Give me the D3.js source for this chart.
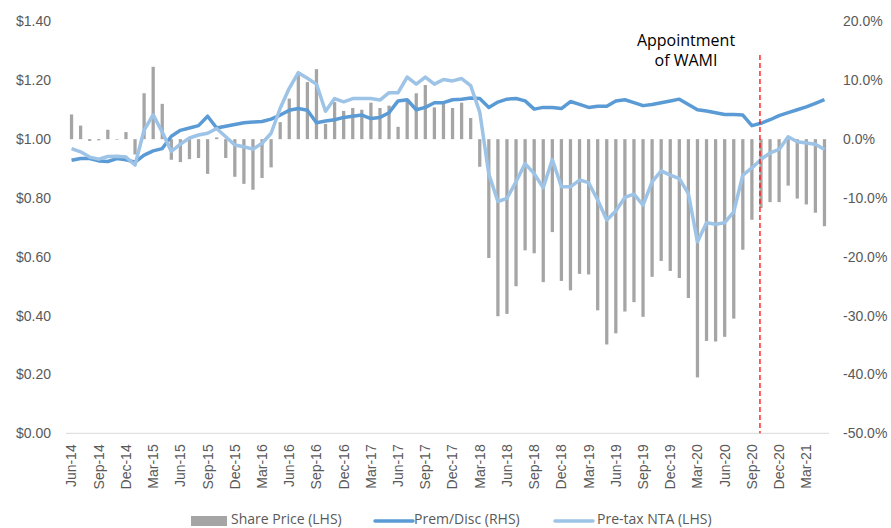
<!DOCTYPE html>
<html lang="en">
<head>
<meta charset="UTF-8">
<title>Share price, NTA and premium/discount</title>
<script src="https://cdn.jsdelivr.net/npm/d3@7"></script>
<style>
    body { margin: 0; background: #fff; }
    svg { display: block; font-family: "Open Sans", sans-serif; }
    .axis text { fill: #595959; font-size: 14px; }
    .axis path, .axis line { display: none; }
    .legend text { fill: #595959; font-size: 14px; }
</style>
</head>
<body>
<script>
// monthly points, Jun-14 .. May-21
var startMonth = new Date(2014, 5, 1),
    endMonth = new Date(2021, 5, 1);

// grey bars (drawn on the right-hand % axis), in %
var sharePrice = [4.2, 2.3, -0.3, -0.2, 1.6, -0.1, 1.2, -2.6, 7.8, 12.3,
    6.0, -3.5, -3.9, -3.4, -3.2, -5.9, 0.3, -3.2, -6.4, -7.6,
    -8.6, -6.6, -4.8, 2.9, 6.9, 11.0, 9.7, 11.9, 2.6, 6.3,
    4.8, 5.3, 5.0, 6.2, 5.3, 5.7, 2.1, 6.7, 7.8, 9.2,
    5.4, 6.1, 5.3, 6.2, 3.6, -4.7, -20.2, -30.1, -29.7, -25.0,
    -18.9, -19.4, -24.3, -15.8, -24.1, -25.7, -22.9, -23.0, -29.1, -34.9,
    -33.0, -29.3, -27.7, -30.2, -23.4, -20.7, -22.4, -23.6, -27.0, -40.5,
    -34.3, -34.4, -33.6, -30.5, -18.8, -13.7, -11.7, -10.7, -10.7, -7.9,
    -10.1, -11.1, -12.5, -14.8];

// dark blue line, in %
var premDisc = [-3.6, -3.3, -3.3, -3.7, -3.8, -3.3, -3.5, -3.9, -2.7, -2.0,
    -1.6, 0.5, 1.5, 1.9, 2.3, 3.9, 1.9, 2.2, 2.5, 2.8,
    2.9, 3.0, 3.4, 4.1, 4.9, 5.2, 4.9, 2.8, 3.1, 3.3,
    3.7, 3.9, 4.1, 3.5, 3.7, 4.5, 6.5, 6.7, 5.0, 5.4,
    6.2, 6.2, 6.7, 6.8, 7.0, 6.9, 5.4, 6.3, 6.8, 6.9,
    6.5, 5.1, 5.4, 5.4, 5.2, 6.4, 5.9, 5.4, 5.6, 5.6,
    6.5, 6.7, 6.2, 5.7, 5.9, 6.2, 6.5, 6.8, 5.9, 5.0,
    4.8, 4.5, 4.2, 4.2, 4.1, 2.3, 2.7, 3.3, 4.0, 4.5,
    5.0, 5.5, 6.1, 6.7];

// light blue line, in $
var preTaxNta = [0.968, 0.957, 0.939, 0.932, 0.941, 0.942, 0.939, 0.912, 1.031, 1.083,
    1.024, 0.958, 0.983, 1.004, 1.014, 1.020, 1.036, 1.008, 0.980, 0.974,
    0.966, 0.986, 1.020, 1.105, 1.173, 1.226, 1.207, 1.187, 1.095, 1.138,
    1.127, 1.138, 1.138, 1.138, 1.133, 1.158, 1.158, 1.211, 1.187, 1.211,
    1.187, 1.203, 1.198, 1.206, 1.182, 1.092, 0.881, 0.788, 0.799, 0.855,
    0.917, 0.883, 0.835, 0.931, 0.838, 0.838, 0.861, 0.852, 0.793, 0.725,
    0.756, 0.802, 0.813, 0.776, 0.855, 0.892, 0.878, 0.866, 0.815, 0.651,
    0.716, 0.711, 0.716, 0.753, 0.878, 0.902, 0.931, 0.953, 0.965, 1.008,
    0.991, 0.987, 0.983, 0.965];

var leftTicks = [0, 0.2, 0.4, 0.6, 0.8, 1.0, 1.2, 1.4];
var rightTicks = [-50, -40, -30, -20, -10, 0, 10, 20];
var wamiMonth = "Oct-20";
var annotation = ["Appointment", "of WAMI"];
var legendItems = ["Share Price (LHS)", "Prem/Disc (RHS)", "Pre-tax NTA (LHS)"];

var width = 891,
    height = 528;

var months = d3.timeMonth.range(startMonth, endMonth);
var fmt = d3.timeFormat("%b-%y");
var labels = months.map(function (d) { return fmt(d); });

var svg = d3.select("body").append("svg")
    .attr("width", width)
    .attr("height", height);

var x = d3.scaleBand()
    .domain(labels)
    .range([67, 829]);

var yL = d3.scaleLinear().domain([0, 1.4]).range([433.3, 21.5]);
var yR = d3.scaleLinear().domain([-50, 20]).range([433.3, 21.5]);

// baseline
svg.append("line")
    .attr("x1", 66).attr("x2", 829)
    .attr("y1", yL(0)).attr("y2", yL(0))
    .attr("stroke", "#d9d9d9")
    .attr("stroke-width", 1);

// axes
svg.append("g")
    .attr("class", "axis")
    .attr("transform", "translate(51,0)")
    .call(d3.axisLeft(yL).tickValues(leftTicks).tickSize(0).tickPadding(0)
        .tickFormat(function (d) { return "$" + d.toFixed(2); }));

svg.append("g")
    .attr("class", "axis")
    .attr("transform", "translate(843,0)")
    .call(d3.axisRight(yR).tickValues(rightTicks).tickSize(0).tickPadding(0)
        .tickFormat(function (d) { return d.toFixed(1) + "%"; }));

svg.append("g")
    .attr("class", "axis")
    .attr("transform", "translate(0," + yL(0) + ")")
    .call(d3.axisBottom(x)
        .tickValues(labels.filter(function (d, i) { return i % 3 == 0; }))
        .tickSize(0))
    .selectAll("text")
    .attr("transform", "rotate(-90)")
    .attr("text-anchor", "end")
    .attr("x", -11)
    .attr("y", 0)
    .attr("dy", "0.35em");

// bars
var barW = x.bandwidth() * 0.36;
svg.append("g").selectAll("rect")
    .data(sharePrice)
    .enter().append("rect")
    .attr("x", function (d, i) { return x(labels[i]) + (x.bandwidth() - barW) / 2; })
    .attr("y", function (d) { return yR(Math.max(0, d)); })
    .attr("width", barW)
    .attr("height", function (d) { return Math.abs(yR(d) - yR(0)); })
    .attr("fill", "#a5a5a5");

var cx = function (i) { return x(labels[i]) + x.bandwidth() / 2; };

svg.append("path")
    .datum(premDisc)
    .attr("fill", "none")
    .attr("stroke", "#5b9bd5")
    .attr("stroke-width", 3.5)
    .attr("stroke-linejoin", "round")
    .attr("d", d3.line().x(function (d, i) { return cx(i); }).y(function (d) { return yR(d); }));

svg.append("path")
    .datum(preTaxNta)
    .attr("fill", "none")
    .attr("stroke", "#9dc3e6")
    .attr("stroke-width", 3.5)
    .attr("stroke-linejoin", "round")
    .attr("d", d3.line().x(function (d, i) { return cx(i); }).y(function (d) { return yL(d); }));

// WAMI marker
var wx = x(wamiMonth) + x.bandwidth() / 2 - 1;
svg.append("line")
    .attr("x1", wx).attr("x2", wx)
    .attr("y1", 55).attr("y2", yL(0))
    .attr("stroke", "#ff0000")
    .attr("stroke-width", 1.25)
    .attr("stroke-dasharray", "5,3");

svg.append("text")
    .attr("x", 686)
    .attr("text-anchor", "middle")
    .style("font-size", "16px")
    .style("fill", "#000")
    .selectAll("tspan")
    .data(annotation)
    .enter().append("tspan")
    .attr("x", 686)
    .attr("y", function (d, i) { return 46 + i * 20; })
    .text(function (d) { return d; });

// legend (reference crops it at the bottom edge; keep it just inside)
var lg = svg.append("g").attr("class", "legend");
var lx = [191, 375, 555];
lg.append("rect").attr("x", lx[0]).attr("y", 516).attr("width", 36).attr("height", 10).attr("fill", "#a5a5a5");
lg.append("line").attr("x1", lx[1]).attr("x2", lx[1] + 38).attr("y1", 521).attr("y2", 521)
    .attr("stroke", "#5b9bd5").attr("stroke-width", 3.5).attr("stroke-linecap", "round");
lg.append("line").attr("x1", lx[2]).attr("x2", lx[2] + 38).attr("y1", 521).attr("y2", 521)
    .attr("stroke", "#9dc3e6").attr("stroke-width", 3.5).attr("stroke-linecap", "round");
lg.selectAll("text")
    .data(legendItems)
    .enter().append("text")
    .attr("x", function (d, i) { return [231, 414, 597][i]; })
    .attr("y", 524)
    .text(function (d) { return d; });
</script>
</body>
</html>
